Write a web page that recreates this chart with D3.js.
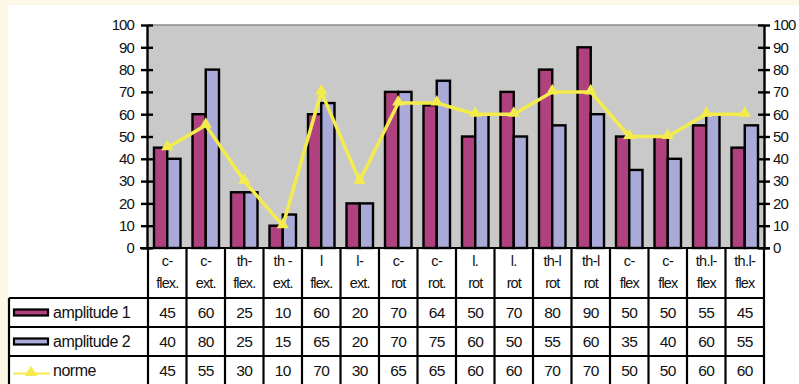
<html>
<head>
<meta charset="utf-8">
<title>amplitude / norme</title>
<script src="https://cdn.jsdelivr.net/npm/d3@7"></script>
<style>
body { margin: 0; background: #fdf8e6; }
text { font-family: "Liberation Sans", Arial, sans-serif; fill: #111; }
</style>
</head>
<body>
<div id="chart"></div>
<script>
// categories, two lines each as printed in the table header
var labels1 = ["c-", "c-", "th-", "th -", "l", "l-", "c-", "c-", "l.", "l.", "th-l", "th-l", "c-", "c-", "th.l-", "th.l-"];
var labels2 = ["flex.", "ext.", "flex.", "ext.", "flex.", "ext.", "rot", "rot.", "rot", "rot", "rot", "rot", "flex", "flex", "flex", "flex"];

var amplitude1 = [45, 60, 25, 10, 60, 20, 70, 64, 50, 70, 80, 90, 50, 50, 55, 45];
var amplitude2 = [40, 80, 25, 15, 65, 20, 70, 75, 60, 50, 55, 60, 35, 40, 60, 55];
var norme      = [45, 55, 30, 10, 70, 30, 65, 65, 60, 60, 70, 70, 50, 50, 60, 60];

var yTicks = [0, 10, 20, 30, 40, 50, 60, 70, 80, 90, 100];

var W = 799, H = 384;
var plot = { left: 148, right: 764, top: 25, bottom: 248 };
var tableRows = [298, 327, 356, 385];
var col = {
	a1: "#b0417f",
	a2: "#aaaad8",
	norme: "#f4ec4c",
	bg: "#c9c9c9"
};

var svg = d3.select("#chart").append("svg")
	.attr("width", W)
	.attr("height", H);

svg.append("rect").attr("width", W).attr("height", H).attr("fill", "#fdf8e6");
svg.append("rect").attr("x", 8).attr("y", 5).attr("width", W - 8).attr("height", H - 5).attr("fill", "#ffffff");

var idx = d3.range(labels1.length);
var x = d3.scaleBand().domain(idx).range([plot.left, plot.right]);
var bw = x.bandwidth();
var xs = d3.scaleBand().domain(["a1", "a2"]).range([6, bw - 6]);
var y = d3.scaleLinear().domain([0, 100]).range([plot.bottom, plot.top]);

// plot background
svg.append("rect")
	.attr("x", plot.left).attr("y", plot.top)
	.attr("width", plot.right - plot.left).attr("height", plot.bottom - plot.top)
	.attr("fill", col.bg);
svg.append("line")
	.attr("x1", plot.left).attr("x2", plot.right)
	.attr("y1", plot.top).attr("y2", plot.top)
	.attr("stroke", "#8a8a8a").attr("stroke-width", 1.5);

// bars
var series = [
	{ key: "a1", values: amplitude1, color: col.a1 },
	{ key: "a2", values: amplitude2, color: col.a2 }
];
series.forEach(function(s) {
	svg.append("g").selectAll("rect")
		.data(s.values)
		.enter().append("rect")
		.attr("x", function(d, i) { return x(i) + xs(s.key); })
		.attr("y", function(d) { return y(d); })
		.attr("width", xs.bandwidth())
		.attr("height", function(d) { return y(0) - y(d); })
		.attr("fill", s.color)
		.attr("stroke", "#000")
		.attr("stroke-width", 2.4);
});

// norme line
var line = d3.line()
	.x(function(d, i) { return x(i) + bw / 2; })
	.y(function(d) { return y(d); });
svg.append("path")
	.datum(norme)
	.attr("d", line)
	.attr("fill", "none")
	.attr("stroke", col.norme)
	.attr("stroke-width", 3.5)
	.attr("stroke-linejoin", "round");
var tri = d3.symbol().type(d3.symbolTriangle).size(65);
svg.append("g").selectAll("path")
	.data(norme)
	.enter().append("path")
	.attr("d", tri)
	.attr("transform", function(d, i) { return "translate(" + (x(i) + bw / 2) + "," + (y(d) - 1) + ")"; })
	.attr("fill", col.norme);

// axes, ticks crossing the axis line
function styleAxis(g, side) {
	g.select(".domain").attr("stroke", "#000").attr("stroke-width", 2.4);
	g.selectAll(".tick line").attr("stroke", "#000").attr("stroke-width", 2.4)
		.attr("x1", side * 6);
	g.selectAll(".tick text").attr("font-size", 15).attr("letter-spacing", -0.9)
		.attr("font-family", "Liberation Sans, Arial, sans-serif");
}
var yLeft = svg.append("g")
	.attr("transform", "translate(" + (plot.left - 1) + ",0)")
	.call(d3.axisLeft(y).tickValues(yTicks).tickSize(6).tickSizeOuter(0).tickPadding(7));
styleAxis(yLeft, 1);
var yRight = svg.append("g")
	.attr("transform", "translate(" + plot.right + ",0)")
	.call(d3.axisRight(y).tickValues(yTicks).tickSize(6).tickSizeOuter(0).tickPadding(3));
styleAxis(yRight, -1);

// data table
var tbl = svg.append("g").attr("stroke", "#000").attr("stroke-width", 2.2);
tbl.append("line").attr("x1", plot.left - 8).attr("x2", plot.right + 6)
	.attr("y1", plot.bottom).attr("y2", plot.bottom);
tbl.selectAll(".hrow")
	.data(tableRows.slice(0, 3))
	.enter().append("line")
	.attr("x1", 9).attr("x2", plot.right)
	.attr("y1", function(d) { return d; }).attr("y2", function(d) { return d; });
tbl.selectAll(".vcol")
	.data(idx.concat([idx.length]))
	.enter().append("line")
	.attr("x1", function(i) { return i < idx.length ? x(i) : plot.right; })
	.attr("x2", function(i) { return i < idx.length ? x(i) : plot.right; })
	.attr("y1", plot.bottom).attr("y2", H);
tbl.append("line").attr("x1", 9).attr("x2", 9).attr("y1", tableRows[0]).attr("y2", H);

// header labels
var head = svg.append("g").attr("font-size", 14.5).attr("text-anchor", "middle");
head.selectAll(".l1")
	.data(labels1)
	.enter().append("text")
	.attr("x", function(d, i) { return x(i) + bw / 2; })
	.attr("y", 266)
	.attr("letter-spacing", -0.6)
	.text(function(d) { return d; });
head.selectAll(".l2")
	.data(labels2)
	.enter().append("text")
	.attr("x", function(d, i) { return x(i) + bw / 2; })
	.attr("y", 288)
	.attr("letter-spacing", -0.9)
	.text(function(d) { return d; });

// rows
var rows = [
	{ name: "amplitude 1", values: amplitude1, color: col.a1, type: "bar" },
	{ name: "amplitude 2", values: amplitude2, color: col.a2, type: "bar" },
	{ name: "norme", values: norme, color: col.norme, type: "line" }
];
rows.forEach(function(r, k) {
	var cy = (tableRows[k] + tableRows[k + 1]) / 2;
	var g = svg.append("g");
	if (r.type === "bar") {
		g.append("rect").attr("x", 14).attr("y", cy - 3).attr("width", 34).attr("height", 6)
			.attr("fill", r.color).attr("stroke", "#000").attr("stroke-width", 2.2);
	} else {
		g.append("line").attr("x1", 13).attr("x2", 50).attr("y1", cy + 3).attr("y2", cy + 3)
			.attr("stroke", r.color).attr("stroke-width", 2);
		g.append("path").attr("d", tri).attr("fill", r.color)
			.attr("transform", "translate(31," + (cy + 2) + ")");
	}
	g.append("text").attr("x", 53).attr("y", cy + 5).attr("font-size", 16)
		.attr("letter-spacing", -0.5).text(r.name);
	g.selectAll(".v")
		.data(r.values)
		.enter().append("text")
		.attr("x", function(d, i) { return x(i) + bw / 2; })
		.attr("y", cy + 5.5)
		.attr("text-anchor", "middle")
		.attr("font-size", 15.5)
		.attr("letter-spacing", -0.7)
		.text(function(d) { return d; });
});
</script>
</body>
</html>
